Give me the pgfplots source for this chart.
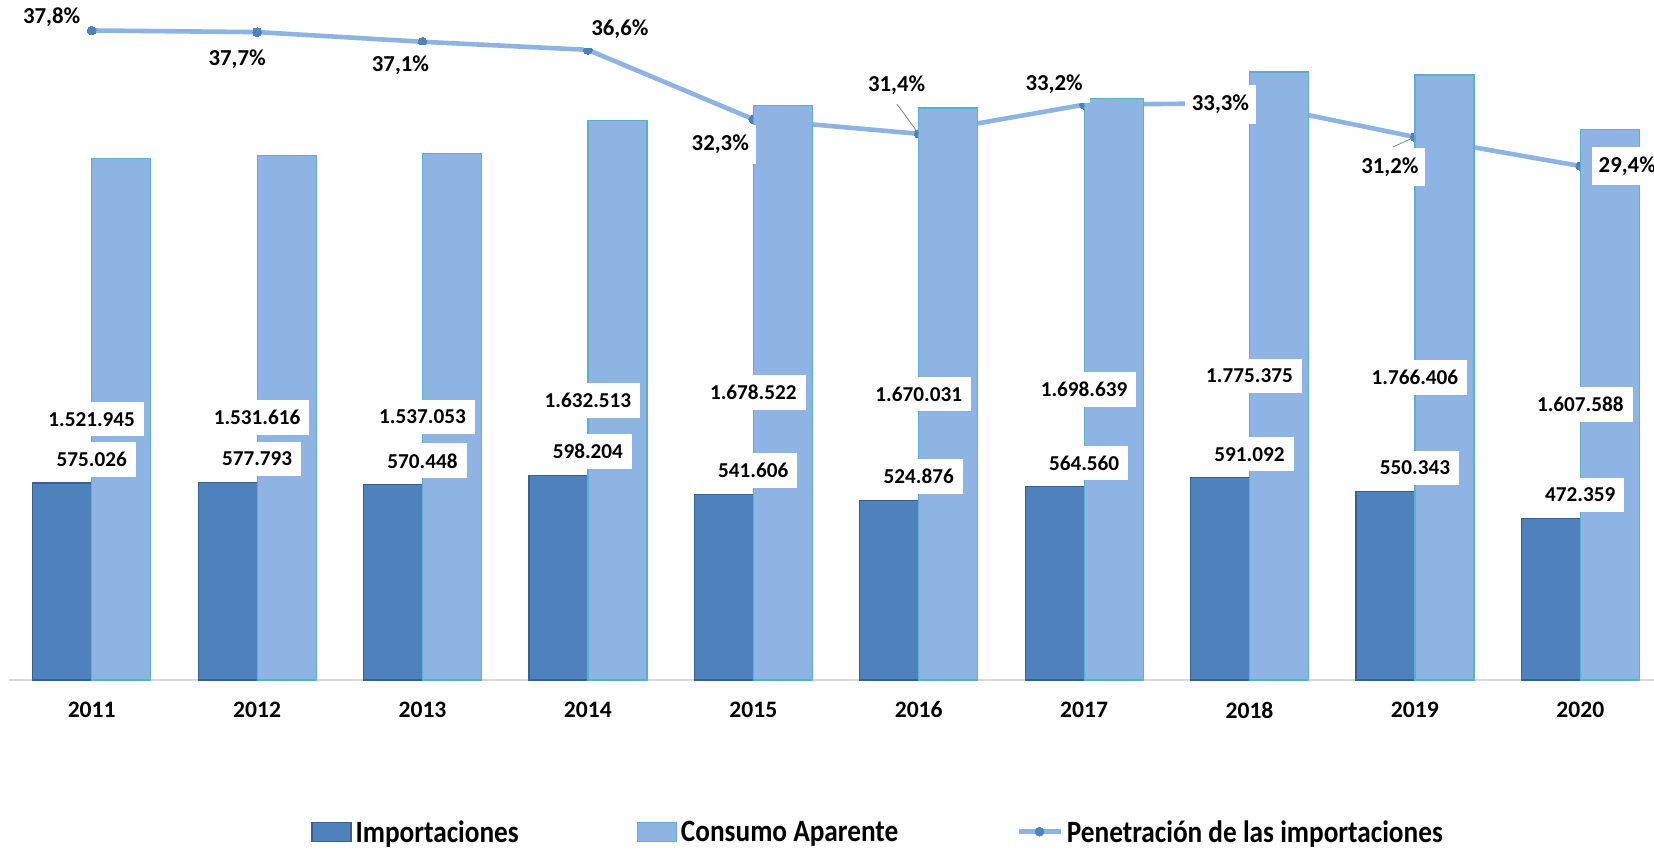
\documentclass[border=0pt]{standalone}
\usepackage{pgfplots}
\pgfplotsset{compat=1.18}
\usepackage{pgfplotstable}
\usepackage{fontspec}
\setmainfont{Carlito}
\newfontfamily\condfont[FakeStretch=0.88]{Carlito}
\definecolor{impfill}{HTML}{4F81BD}
\definecolor{impdraw}{HTML}{34618E}
\definecolor{consfill}{HTML}{8EB4E3}
\definecolor{consdraw}{HTML}{5AAFCB}
\definecolor{linecol}{HTML}{8DB3E2}
\definecolor{markcol}{HTML}{4F81BD}
\definecolor{axgray}{HTML}{D9D9D9}

\pgfplotstableread{
x imp cons implab conslab
0 575026 1521945 575.026 1.521.945
1 577793 1531616 577.793 1.531.616
2 570448 1537053 570.448 1.537.053
3 598204 1632513 598.204 1.632.513
4 541606 1678522 541.606 1.678.522
5 524876 1670031 524.876 1.670.031
6 564560 1698639 564.560 1.698.639
7 591092 1775375 591.092 1.775.375
8 550343 1766406 550.343 1.766.406
9 472359 1607588 472.359 1.607.588
}\datatable

\pgfplotstableread{
x pen
0 37.8
1 37.7
2 37.1
3 36.6
4 32.3
5 31.4
6 33.2
7 33.3
8 31.2
9 29.4
}\pentable

\pgfplotsset{base/.style={scale only axis, width=827pt, height=342.5pt,
  at={(4.5pt,86pt)}, anchor=south west, xmin=-0.5, xmax=9.5}}

\tikzset{lab/.style={font=\fontsize{11.4}{13}\selectfont\bfseries, fill=white,
  inner xsep=3.5pt, inner ysep=5pt, text=black}}

\begin{document}
\begin{tikzpicture}
% line (behind bars)
\begin{axis}[base, ymin=-2.45, ymax=40, hide axis]
\addplot[color=linecol, line width=2.3pt, mark=*, mark size=2.2pt,
  mark options={fill=markcol, draw=markcol, line width=0pt}] table[x=x,y=pen]{\pentable};
\end{axis}
% bars
\begin{axis}[base, ymin=0, ymax=2000000,
  axis x line*=bottom, axis y line=none, ytick=\empty,
  x axis line style={draw=axgray, line width=0.75pt, -},
  xtick={0,...,9}, xticklabels={2011,2012,2013,2014,2015,2016,2017,2018,2019,2020},
  major tick length=0pt,
  xticklabel style={font=\fontsize{11.8}{13}\selectfont\bfseries, anchor=center, yshift=-15pt},
  clip=false,
  legend style={at={(0.1826,-0.2230)}, anchor=west, draw=none, fill=none,
    inner sep=0pt, legend columns=3,
    font=\condfont\fontsize{15.5}{18}\selectfont\bfseries,
    /tikz/every odd column/.append style={column sep=2pt},
    /tikz/every even column/.append style={column sep=59pt},
    nodes={inner sep=0pt}},
  legend cell align=left]
\addplot[ybar, bar width=29.5pt, bar shift=-14.75pt, fill=impfill, draw=impdraw, line width=0.6pt, forget plot]
  table[x=x,y=imp]{\datatable};
\addplot[ybar, bar width=29.5pt, bar shift=14.75pt, fill=consfill, draw=consdraw, line width=0.6pt, forget plot]
  table[x=x,y=cons]{\datatable};
\addplot[ybar, bar width=29.5pt, bar shift=-14.75pt, draw=none, fill=none, forget plot,
  nodes near coords, point meta=explicit symbolic,
  every node near coord/.style={font=\fontsize{10.6}{12}\selectfont\bfseries, fill=white,
    inner xsep=4.5pt, inner ysep=5pt, anchor=south, yshift=3pt, text=black}]
  table[x=x,y=imp,meta=implab]{\datatable};
\addplot[ybar, bar width=29.5pt, bar shift=14.75pt, draw=none, fill=none, forget plot,
  nodes near coords, point meta=explicit symbolic,
  every node near coord/.style={font=\fontsize{10.6}{12}\selectfont\bfseries, fill=white,
    inner xsep=4.5pt, inner ysep=5pt, anchor=center, text=black}]
  table[x=x,y expr=\thisrow{cons}/2,meta=conslab]{\datatable};
\addlegendimage{legend image code/.code={\draw[fill=impfill, draw=impdraw, line width=0.6pt] (0pt,-4.25pt) rectangle (19.5pt,5.25pt);}}
\addlegendentry{Importaciones}
\addlegendimage{legend image code/.code={\draw[fill=consfill, draw=consdraw, line width=0.6pt] (0pt,-4.25pt) rectangle (19.5pt,5.25pt);}}
\addlegendentry{Consumo Aparente}
\addlegendimage{legend image code/.code={\draw[linecol, line width=2.3pt] (0pt,0.5pt) -- (21pt,0.5pt); \fill[markcol] (10.5pt,0.5pt) circle (2.2pt);}}
\addlegendentry{Penetración de las importaciones}
\end{axis}
% line labels (on top)
\begin{axis}[base, ymin=-2.45, ymax=40, hide axis, clip=false]
\draw[gray, line width=0.4pt] (axis cs:5,31.4) -- ++(-11pt,15pt);
\draw[gray, line width=0.4pt] (axis cs:8,31.2) -- ++(-11pt,-5pt);
\node[lab, xshift=-20pt, yshift=6.5pt] at (axis cs:0,37.8) {37,8\%};
\node[lab, xshift=-10pt, yshift=-13.5pt] at (axis cs:1,37.7) {37,7\%};
\node[lab, xshift=-11pt, yshift=-11.5pt] at (axis cs:2,37.1) {37,1\%};
\node[lab, xshift=16pt, yshift=10.5pt] at (axis cs:3,36.6) {36,6\%};
\node[lab, xshift=-16.5pt, yshift=-12.5pt] at (axis cs:4,32.3) {32,3\%};
\node[lab, xshift=-11pt, yshift=24.5pt] at (axis cs:5,31.4) {31,4\%};
\node[lab, xshift=-15pt, yshift=10.5pt] at (axis cs:6,33.2) {33,2\%};
\node[lab, xshift=-14.5pt, yshift=-0.75pt] at (axis cs:7,33.3) {33,3\%};
\node[lab, xshift=-12.5pt, yshift=-15pt] at (axis cs:8,31.2) {31,2\%};
\node[lab, xshift=23.5pt, yshift=0pt] at (axis cs:9,29.4) {29,4\%};
\end{axis}
\pgfresetboundingbox
\useasboundingbox (0,0) rectangle (827pt,426pt);
\end{tikzpicture}
\end{document}
